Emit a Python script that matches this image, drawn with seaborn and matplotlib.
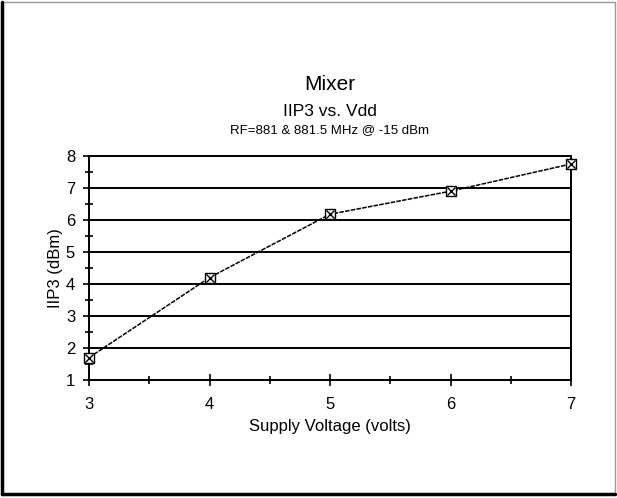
import matplotlib
matplotlib.use("Agg")
import matplotlib.pyplot as plt
import seaborn as sns
import pandas as pd
from matplotlib.ticker import MultipleLocator
from matplotlib.lines import Line2D

supply_voltage = [3, 4, 5, 6, 7]
iip3_dbm = [1.7, 4.2, 6.18, 6.9, 7.75]
x_ticks = [3, 4, 5, 6, 7]
y_ticks = [1, 2, 3, 4, 5, 6, 7, 8]

df = pd.DataFrame({"Supply Voltage (volts)": supply_voltage, "IIP3 (dBm)": iip3_dbm})

sns.set_theme(style="white")
plt.rcParams['font.family'] = ['Liberation Sans', 'DejaVu Sans']

fig = plt.figure(figsize=(6.17, 4.98), dpi=100)
W, H = 617, 498
ax = fig.add_axes([89 / W, 1 - 380 / H, (571 - 89) / W, (380 - 156) / H])

sns.lineplot(data=df, x="Supply Voltage (volts)", y="IIP3 (dBm)", ax=ax,
             color="black", linewidth=1.1, zorder=3)
ax.lines[0].set_dashes([3, 0.8])
ax.lines[0].set_clip_on(False)
sns.scatterplot(data=df, x="Supply Voltage (volts)", y="IIP3 (dBm)", ax=ax,
                marker="s", s=45, facecolor="white", edgecolor="black",
                linewidth=1.0, zorder=4)
sns.scatterplot(data=df, x="Supply Voltage (volts)", y="IIP3 (dBm)", ax=ax,
                marker="x", s=34, color="black", linewidth=1.0, zorder=5)
for c in ax.collections:
    c.set_clip_on(False)

ax.set_xlim(3, 7)
ax.set_ylim(1, 8)
ax.set_xticks(x_ticks)
ax.set_yticks(y_ticks)
ax.xaxis.set_minor_locator(MultipleLocator(0.5))
ax.yaxis.set_minor_locator(MultipleLocator(0.5))
for yv in y_ticks[1:]:
    ax.axhline(yv, color="black", linewidth=1.4, zorder=1)

ax.tick_params(axis="both", which="both", direction="inout", color="black",
               width=1.2, labelsize=12, labelcolor="black",
               bottom=True, left=True, top=False, right=False)
ax.tick_params(axis="both", which="major", length=8)
ax.tick_params(axis="both", which="minor", length=6)
ax.tick_params(axis="x", which="major", pad=8)
ax.tick_params(axis="y", which="major", pad=6)
for s in ax.spines.values():
    s.set_color("black")
    s.set_linewidth(1.4)
    s.set_visible(True)

ax.set_xlabel("Supply Voltage (volts)", fontsize=12, color="black", labelpad=5)
ax.set_ylabel("IIP3 (dBm)", fontsize=12, color="black", labelpad=2)

cx = 330 / W
fig.text(cx, 1 - 85 / H, "Mixer", ha="center", va="center", fontsize=15, color="black")
fig.text(cx, 1 - 112 / H, "IIP3 vs. Vdd", ha="center", va="center", fontsize=12.5, color="black")
fig.text(cx, 1 - 130 / H, "RF=881 & 881.5 MHz @ -15 dBm", ha="center", va="center",
         fontsize=9.5, color="black")

# frame around the figure
fig.add_artist(Line2D([2 / W, 615 / W], [1 - 2 / H, 1 - 2 / H], transform=fig.transFigure,
                      color="#999999", linewidth=1))
fig.add_artist(Line2D([615 / W, 615 / W], [1 - 2 / H, 1 - 494 / H], transform=fig.transFigure,
                      color="#999999", linewidth=1))
fig.add_artist(Line2D([2 / W, 2 / W], [1 - 2 / H, 1 - 494 / H], transform=fig.transFigure,
                      color="black", linewidth=2.5))
fig.add_artist(Line2D([2 / W, 615 / W], [1 - 494 / H, 1 - 494 / H], transform=fig.transFigure,
                      color="black", linewidth=2.5))

fig.savefig("out.png", dpi=100, facecolor="white")
